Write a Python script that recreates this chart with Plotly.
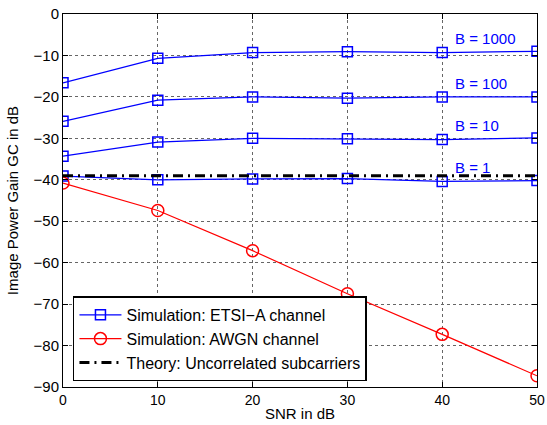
import plotly.graph_objects as go

snr = [0, 10, 20, 30, 40, 50]
etsi_b1000 = [-16.6, -10.7, -9.3, -9.1, -9.3, -9.0]
etsi_b100 = [-25.9, -20.8, -20.0, -20.3, -20.0, -20.0]
etsi_b10 = [-34.3, -30.9, -30.0, -30.1, -30.3, -29.9]
etsi_b1 = [-39.1, -40.0, -39.8, -39.7, -40.4, -40.2]
awgn = [-40.8, -47.4, -57.1, -67.5, -77.3, -87.3]
theory = [-39.0, -39.0, -39.0, -39.0, -39.0, -39.0]
b_labels = ["B = 1000", "B = 100", "B = 10", "B = 1"]
b_label_y = [-6.0, -16.8, -27.0, -37.0]
b_label_x = [41.1, 41.1, 41.1, 41.1]

FONT = "Liberation Sans, Arial, sans-serif"
FS = 15
fig = go.Figure()

blue_sets = [etsi_b1000, etsi_b100, etsi_b10, etsi_b1]
for i, ys in enumerate(blue_sets):
    fig.add_trace(go.Scatter(
        x=snr, y=ys, mode="lines+markers",
        line=dict(color="#0000ff", width=1.2),
        marker=dict(symbol="square-open", size=10, color="#0000ff", line=dict(width=1.5)),
        name="Simulation: ETSI\u2212A channel", showlegend=(i == 0), legendrank=1))

fig.add_trace(go.Scatter(
    x=snr, y=awgn, mode="lines+markers",
    line=dict(color="#ff0000", width=1.2),
    marker=dict(symbol="circle-open", size=12, color="#ff0000", line=dict(width=1.5)),
    name="Simulation: AWGN channel", legendrank=2))

fig.add_trace(go.Scatter(
    x=snr, y=theory, mode="lines",
    line=dict(color="black", width=3, dash="10px,5px,2px,5px"),
    name="Theory: Uncorrelated subcarriers", legendrank=3))

for t, xx, yy in zip(b_labels, b_label_x, b_label_y):
    fig.add_annotation(x=xx, y=yy, text=t, showarrow=False, xanchor="left", yanchor="middle",
                       font=dict(color="#0000ff", size=FS, family=FONT))

# x-axis title placed as an annotation just under the tick labels
fig.add_annotation(xref="paper", yref="paper", x=0.5, y=0, xanchor="center", yanchor="bottom",
                   yshift=-37, text="SNR in dB", showarrow=False,
                   font=dict(color="black", size=FS, family=FONT))

axis_common = dict(showline=True, linecolor="black", linewidth=1, mirror="ticks",
                   ticks="inside", ticklen=5, tickcolor="black",
                   showgrid=True, gridcolor="#666666", griddash="dot", gridwidth=1,
                   zeroline=False, automargin=False,
                   title_font=dict(size=FS, color="black", family=FONT))

fig.update_xaxes(range=[0, 50], tickvals=[0, 10, 20, 30, 40, 50],
                 tickfont=dict(size=14, color="black", family=FONT), **axis_common)
fig.update_yaxes(range=[-90, 0], tickvals=[0, -10, -20, -30, -40, -50, -60, -70, -80, -90],
                 ticktext=["0", "\u221210", "\u221220", "\u221230", "\u221240", "\u221250",
                           "\u221260", "\u221270", "\u221280", "\u221290"],
                 tickfont=dict(size=FS, color="black", family=FONT),
                 title_text="Image Power Gain GC in dB", title_standoff=11, **axis_common)

fig.update_layout(
    width=547, height=425,
    margin=dict(l=63, r=10, t=14, b=38),
    paper_bgcolor="white", plot_bgcolor="white",
    font=dict(family=FONT, size=FS, color="black"),
    legend=dict(x=0.021, y=0.015, xanchor="left", yanchor="bottom",
                bordercolor="black", borderwidth=1.5, bgcolor="white",
                font=dict(size=16, family=FONT), tracegroupgap=0,
                itemwidth=42, traceorder="normal"),
    showlegend=True,
)

fig.write_html("out.html", config={"displayModeBar": False},
               post_script="document.body.style.margin='0';document.body.style.padding='0';")
